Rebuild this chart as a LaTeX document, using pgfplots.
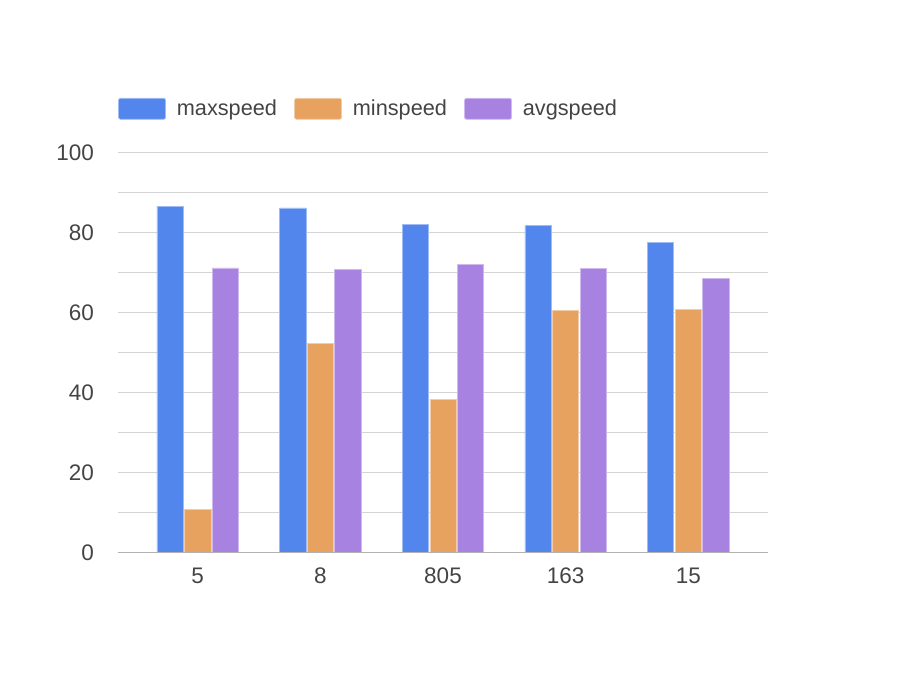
\documentclass[border=0pt]{standalone}
\usepackage{fontspec}
\setmainfont{Liberation Sans}
\usepackage{pgfplots}
\pgfplotsset{compat=1.18}
\definecolor{maxc}{RGB}{83,134,236}
\definecolor{minc}{RGB}{232,162,96}
\definecolor{avgc}{RGB}{167,130,224}
\definecolor{gridc}{RGB}{212,212,212}
\definecolor{basec}{RGB}{178,178,178}
\definecolor{txt}{RGB}{68,68,68}

\begin{document}
\begin{tikzpicture}
% canvas: 1px of the reference = 1pt
\path[use as bounding box] (-118pt,-127pt) rectangle (806pt,553pt);
\begin{axis}[
    at={(0,0)}, anchor=south west,
    scale only axis, width=650pt, height=400pt,
    ybar=1.3pt, bar width=26.3pt,
    xmin=-0.65, xmax=4.65, ymin=0, ymax=100,
    xtick={0,...,4}, xticklabels={5,8,805,163,15},
    ytick={0,20,...,100}, minor ytick={10,30,...,90},
    ymajorgrids, yminorgrids,
    major grid style={gridc, line width=1pt},
    minor grid style={gridc, line width=1pt},
    major tick length=0pt, minor tick length=0pt,
    axis line style={draw=none},
    /pgf/number format/assume math mode=true,
    ticklabel style={font=\fontsize{22.5}{27}\selectfont, text=txt},
    yticklabel style={inner sep=0pt, xshift=-24pt},
    xticklabel style={inner sep=0pt, yshift=-15pt},
    legend columns=3,
    legend image code/.code={
        \path (-17.2pt,0pt) (58pt,0pt);
        \fill[rounded corners=2pt] (0pt,-10.5pt) rectangle (47pt,10.5pt);
    },
    legend style={at={(0,1)}, anchor=west, xshift=-17.2pt, yshift=44.2pt,
        draw=none, fill=none, inner sep=0pt, column sep=0pt,
        nodes={inner sep=0pt}, cells={anchor=west},
        font=\fontsize{21.7}{26}\selectfont, text=txt},
]
\addplot[fill=maxc, draw=maxc!55!white, line width=0.7pt] coordinates {
    (0,86.7) (1,86.25) (2,82.1) (3,81.8) (4,77.7)};
\addlegendentry{maxspeed}
\addplot[fill=minc, draw=minc!55!white, line width=0.7pt] coordinates {
    (0,10.8) (1,52.4) (2,38.4) (3,60.6) (4,60.8)};
\addlegendentry{minspeed}
\addplot[fill=avgc, draw=avgc!55!white, line width=0.7pt] coordinates {
    (0,71.25) (1,70.9) (2,72.2) (3,71.1) (4,68.7)};
\addlegendentry{avgspeed}
\draw[basec, line width=1.3pt] (rel axis cs:0,0) -- (rel axis cs:1,0);
\end{axis}
\end{tikzpicture}
\end{document}
